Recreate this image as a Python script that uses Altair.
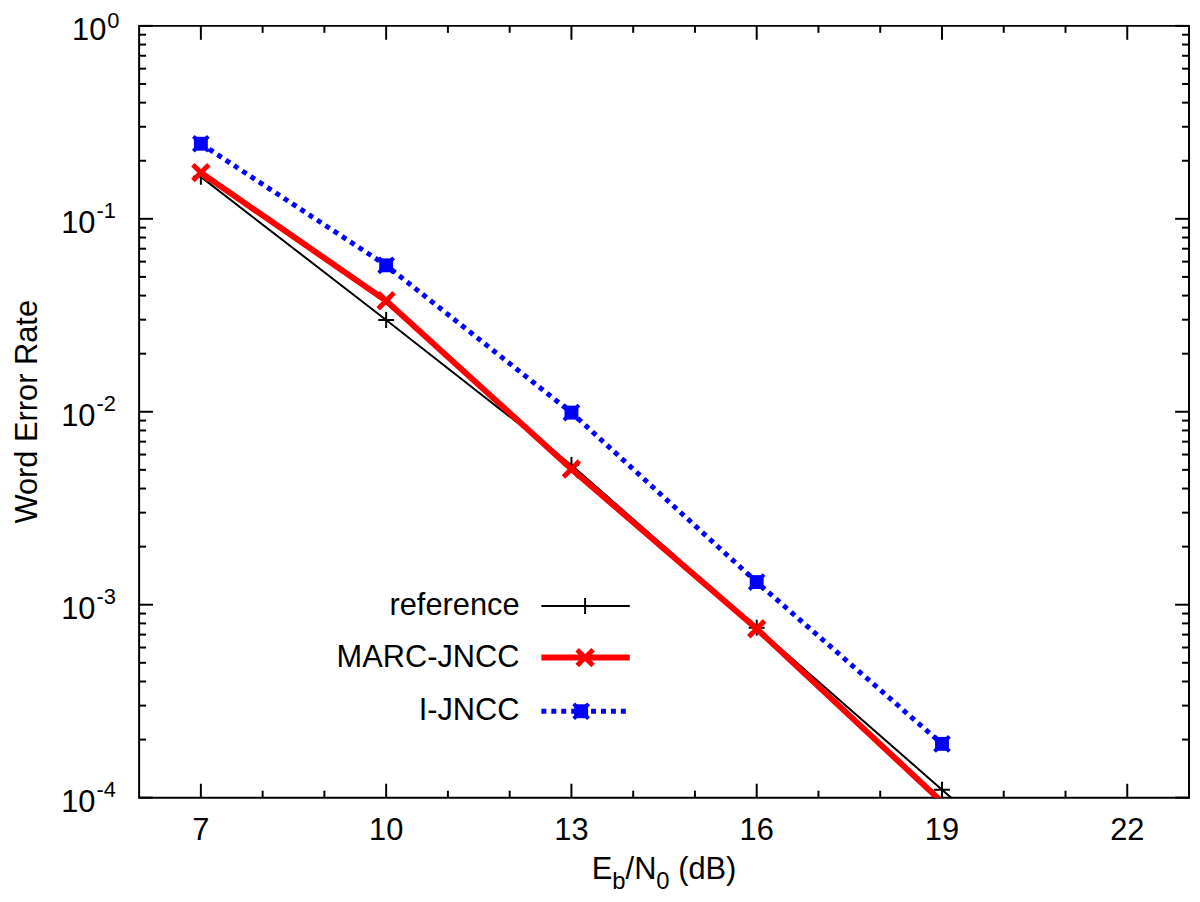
import altair as alt
import pandas as pd

# ---------------- data ----------------
ref_x = [7, 10, 13, 16, 19, 22]
ref_wer = [0.165, 0.0299, 0.0053, 0.00076, 0.00011, 0.000016]
marc_x = [7, 10, 13, 16, 19]
marc_wer = [0.1735, 0.0376, 0.00505, 0.00075, 0.000095]
ijncc_x = [7, 10, 13, 16, 19]
ijncc_wer = [0.245, 0.0574, 0.0099, 0.00131, 0.00019]

x_major = [7, 10, 13, 16, 19, 22]
x_minor = [8, 9, 11, 12, 14, 15, 17, 18, 20, 21]
y_exps = [0, -1, -2, -3, -4]
series_names = ["reference", "MARC-JNCC", "I-JNCC"]

# ---------------- layout / style ----------------
W, H = 1057, 777
FONT = "Liberation Sans"
FS = 31
SUP = 22
xs = alt.Scale(domain=[6, 23], nice=False, zero=False)
ys = alt.Scale(type="log", domain=[1e-4, 1], nice=False)
PLUS = "M-1,0L1,0M0,-1L0,1"
CROSS = "M-1,-1L1,1M-1,1L1,-1"


def X(f="x"):
    return alt.X(f"{f}:Q", scale=xs, axis=None)


def Y(f="y"):
    return alt.Y(f"{f}:Q", scale=ys, axis=None)


ref_df = pd.DataFrame({"x": ref_x, "y": ref_wer})
marc_df = pd.DataFrame({"x": marc_x, "y": marc_wer})
ij_df = pd.DataFrame({"x": ijncc_x, "y": ijncc_wer})
in_range = "datum.y >= 0.0001 && datum.y <= 1"

layers = []


# ---- frame ticks (inward, mirrored) ----
def x_tick_layers(vals, L):
    df = pd.DataFrame({"x": vals})
    base = alt.Chart(df).mark_rule(color="black", strokeWidth=2)
    return [
        base.encode(x=X(), y=alt.value(H), y2=alt.value(H - L)),
        base.encode(x=X(), y=alt.value(0), y2=alt.value(L)),
    ]


def y_tick_layers(vals, L):
    df = pd.DataFrame({"y": vals})
    base = alt.Chart(df).mark_rule(color="black", strokeWidth=2)
    return [
        base.encode(y=Y(), x=alt.value(0), x2=alt.value(L)),
        base.encode(y=Y(), x=alt.value(W), x2=alt.value(W - L)),
    ]


y_major = [10.0 ** e for e in y_exps]
y_minor = [k * 10.0 ** e for e in y_exps[1:] for k in range(2, 10)]
layers += x_tick_layers(x_major, 14) + x_tick_layers(x_minor, 7)
layers += y_tick_layers(y_major, 14) + y_tick_layers(y_minor, 7)


# ---- marker styles ----
def sq_mark():
    return dict(shape="square", filled=True, color="#0000ff", size=196, opacity=1)


def bx_mark():
    return dict(shape=CROSS, filled=False, color="#0000ff", strokeWidth=4, size=225, opacity=1)


# ---- series ----
layers.append(alt.Chart(ref_df).mark_line(color="black", strokeWidth=2, clip=True).encode(x=X(), y=Y()))
layers.append(alt.Chart(ref_df).transform_filter(in_range).mark_point(
    shape=PLUS, filled=False, color="black", strokeWidth=2, size=256, opacity=1).encode(x=X(), y=Y()))

layers.append(alt.Chart(marc_df).mark_line(color="#ff0000", strokeWidth=6, clip=True).encode(x=X(), y=Y()))
layers.append(alt.Chart(marc_df).transform_filter(in_range).mark_point(
    shape=CROSS, filled=False, color="#ff0000", strokeWidth=5, size=256, opacity=1).encode(x=X(), y=Y()))

layers.append(alt.Chart(ij_df).mark_line(color="#0000ff", strokeWidth=5, strokeDash=[5, 5], clip=True).encode(x=X(), y=Y()))
layers.append(alt.Chart(ij_df).transform_filter(in_range).mark_point(**sq_mark()).encode(x=X(), y=Y()))
layers.append(alt.Chart(ij_df).transform_filter(in_range).mark_point(**bx_mark()).encode(x=X(), y=Y()))

# ---- x tick labels ----
xl_df = pd.DataFrame({"x": x_major, "t": [str(v) for v in x_major]})
layers.append(alt.Chart(xl_df).mark_text(
    font=FONT, fontSize=FS, color="black", align="center", baseline="alphabetic").encode(
    x=X(), y=alt.value(H + 43), text="t:N"))

# ---- y tick labels (10 with superscript exponent) ----
yl_df = pd.DataFrame({"y": y_major, "b": ["10"] * len(y_exps), "s": [str(e) for e in y_exps]})
for cond, xr, sdy in [("datum.y == 1", -33, 2), ("datum.y < 1", -44, -1)]:
    sub = alt.Chart(yl_df).transform_filter(cond)
    layers.append(sub.mark_text(font=FONT, fontSize=FS, color="black", align="right",
                                baseline="alphabetic", dy=14).encode(x=alt.value(xr), y=Y(), text="b:N"))
    layers.append(sub.mark_text(font=FONT, fontSize=SUP, color="black", align="left",
                                baseline="alphabetic", dy=sdy).encode(x=alt.value(xr + 1), y=Y(), text="s:N"))

# ---- axis titles ----
layers.append(alt.Chart().mark_text(font=FONT, fontSize=FS, color="black", angle=270,
                                    align="center", baseline="alphabetic").encode(
    x=alt.value(-103), y=alt.value(H / 2), text=alt.value("Word Error Rate")))

SUBF = 24
# (text, font size, advance width, baseline shift, gap before)
pieces = [("E", FS, 0.667 * FS, 0, 0), ("b", SUBF, 0.556 * SUBF, 10, 0), ("/N", FS, 1.0 * FS, 0, 0),
          ("0", SUBF, 0.556 * SUBF, 10, 0), ("(dB)", FS, 1.889 * FS, 0, 0.278 * FS)]
total = sum(p[2] + p[4] for p in pieces)
cx = W / 2 - total / 2
TB = H + 82
for txt, fs, w, shift, gap in pieces:
    cx += gap
    layers.append(alt.Chart().mark_text(font=FONT, fontSize=fs, color="black", align="left",
                                        baseline="alphabetic").encode(
        x=alt.value(cx), y=alt.value(TB + shift), text=alt.value(txt)))
    cx += w

# ---- legend (gnuplot style: label then sample) ----
leg_y = [584, 636, 690]
styles = [
    dict(color="black", width=2, dash=None),
    dict(color="#ff0000", width=6, dash=None),
    dict(color="#0000ff", width=5, dash=[5, 5]),
]
for name, ly, st in zip(series_names, leg_y, styles):
    layers.append(alt.Chart().mark_text(font=FONT, fontSize=FS, color="black", align="right",
                                        baseline="middle").encode(
        x=alt.value(383), y=alt.value(ly), text=alt.value(name)))
    rk = dict(color=st["color"], strokeWidth=st["width"])
    if st["dash"]:
        rk["strokeDash"] = st["dash"]
    layers.append(alt.Chart().mark_rule(**rk).encode(
        x=alt.value(405), x2=alt.value(494), y=alt.value(ly)))

layers.append(alt.Chart().mark_point(shape=PLUS, filled=False, color="black", strokeWidth=2,
                                     size=256, opacity=1).encode(x=alt.value(449), y=alt.value(leg_y[0])))
layers.append(alt.Chart().mark_point(shape=CROSS, filled=False, color="#ff0000", strokeWidth=5,
                                     size=256, opacity=1).encode(x=alt.value(449), y=alt.value(leg_y[1])))
layers.append(alt.Chart().mark_point(**sq_mark()).encode(x=alt.value(445), y=alt.value(leg_y[2])))
layers.append(alt.Chart().mark_point(**bx_mark()).encode(x=alt.value(445), y=alt.value(leg_y[2])))

chart = alt.layer(*layers).properties(
    width=W, height=H,
    autosize=alt.AutoSizeParams(type="none"),
    padding={"left": 132, "top": 15, "right": 3, "bottom": 94},
    background="white",
).configure_view(stroke="black", strokeWidth=2)

chart.save("out.html", embed_options={"renderer": "svg", "actions": False})
